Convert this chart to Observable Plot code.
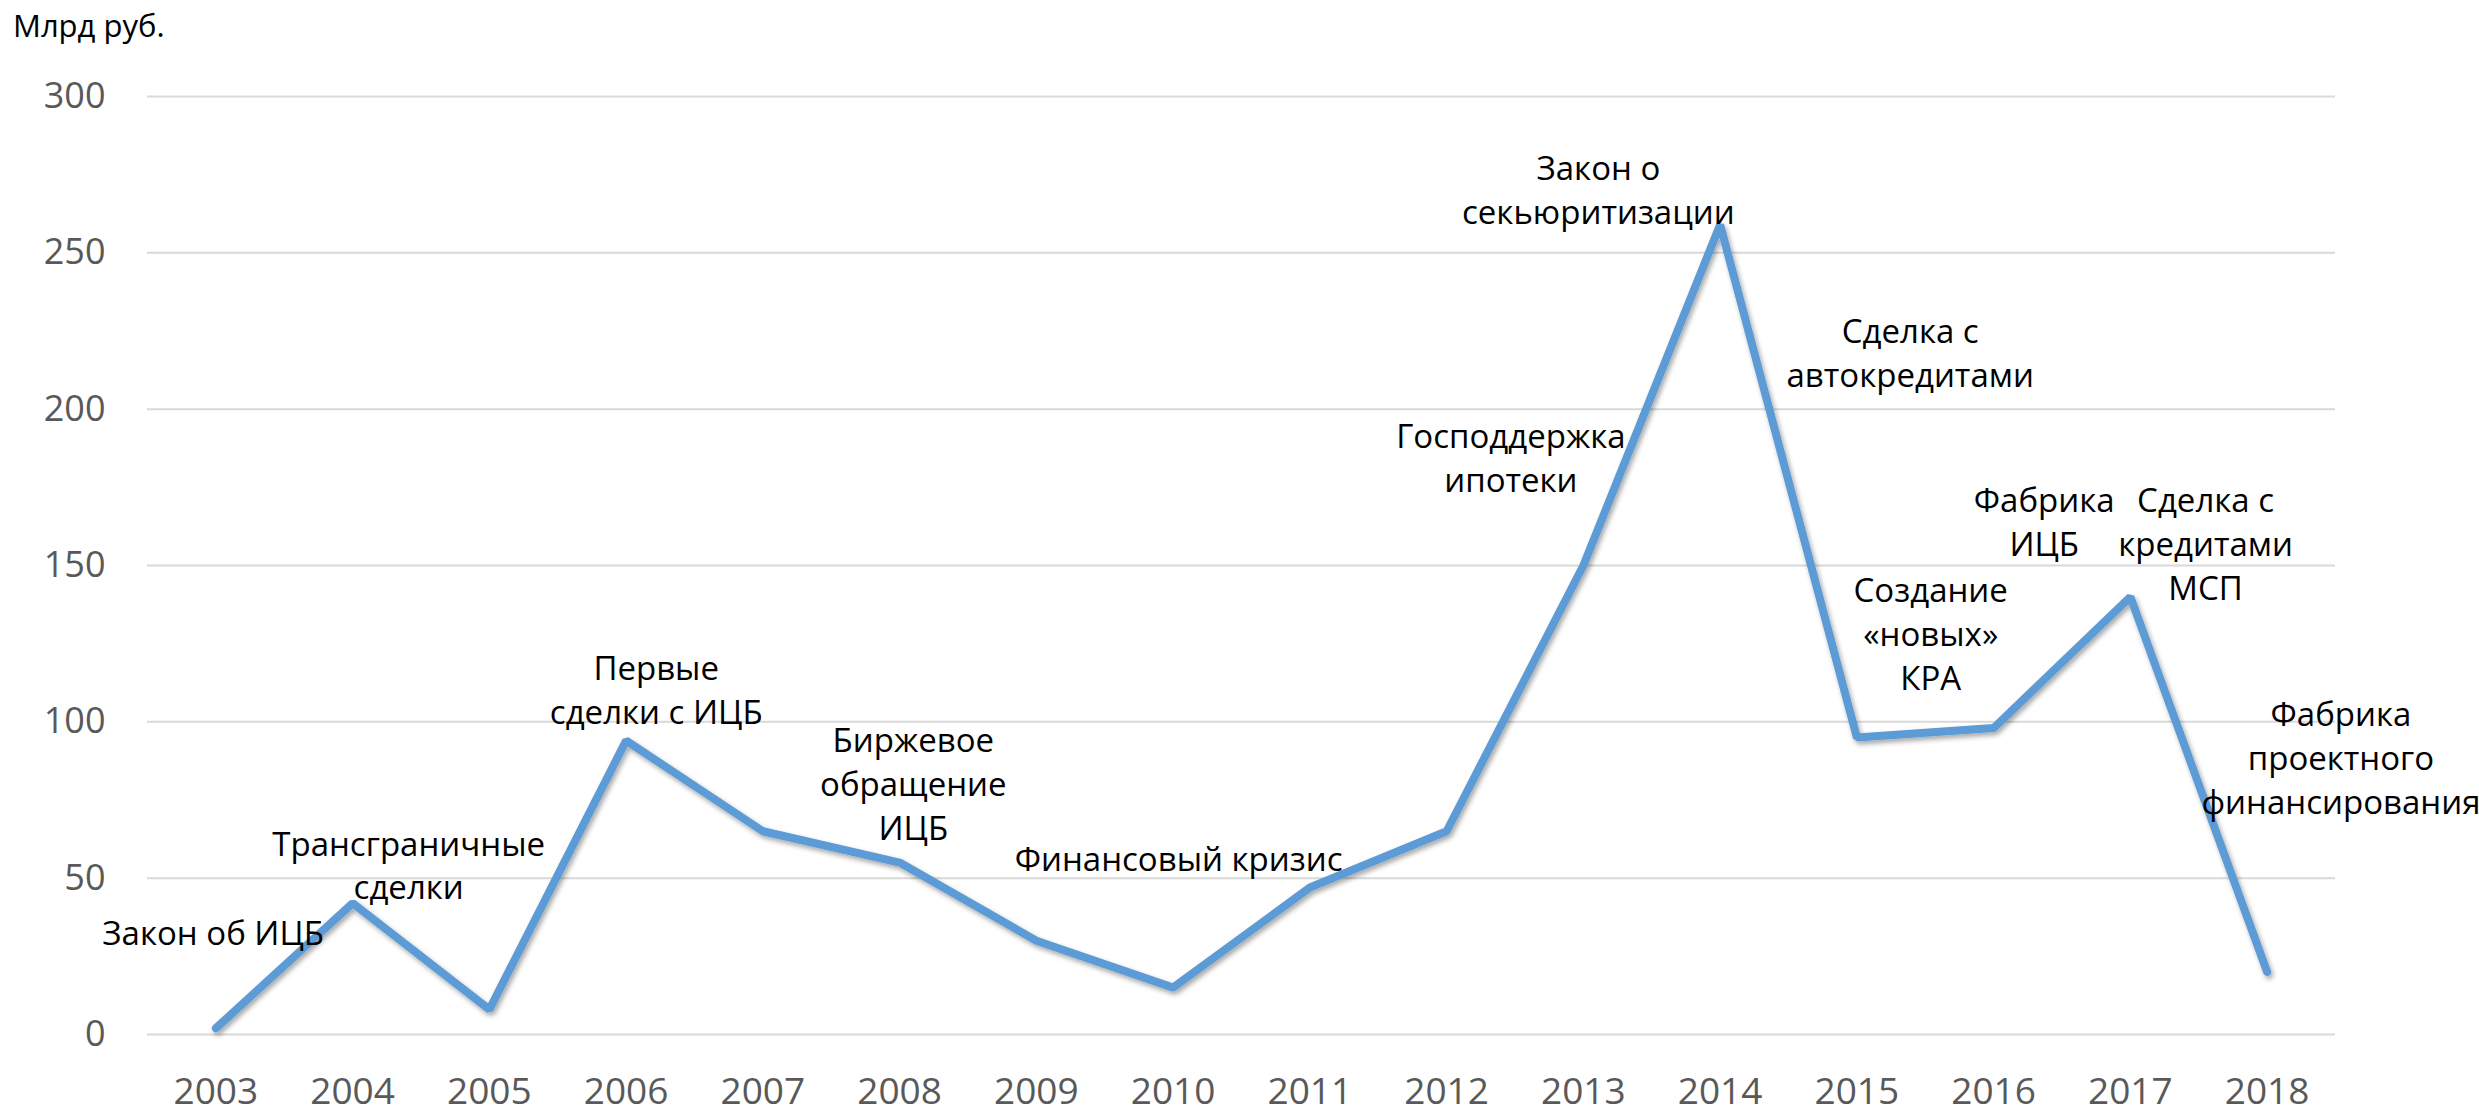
<!DOCTYPE html>
<html>
<head>
<meta charset="utf-8">
<script src="https://cdn.jsdelivr.net/npm/d3@7"></script>
<script src="https://cdn.jsdelivr.net/npm/@observablehq/plot@0.6"></script>
<style>
  html, body { margin: 0; padding: 0; background: #fff; }
  #unit { height: 50px; line-height: 50px; font-family: "Open Sans", sans-serif; font-size: 31px; color: #000; padding-left: 13px; }
</style>
</head>
<body>
<div id="unit">Млрд руб.</div>
<div id="chart"></div>
<script>
// Data
const years = [2003, 2004, 2005, 2006, 2007, 2008, 2009, 2010, 2011, 2012, 2013, 2014, 2015, 2016, 2017, 2018];
const volumes = [2, 42, 8, 94, 65, 55, 30, 15, 47, 65, 150, 259, 95, 98, 140, 20];
const yTicks = [0, 50, 100, 150, 200, 250, 300];

// Annotation texts and their anchor positions in data units (year, value)
const noteTexts = [
  "Закон об ИЦБ",
  "Трансграничные\nсделки",
  "Первые\nсделки с ИЦБ",
  "Биржевое\nобращение\nИЦБ",
  "Финансовый кризис",
  "Господдержка\nипотеки",
  "Закон о\nсекьюритизации",
  "Сделка с\nавтокредитами",
  "Создание\n«новых»\nКРА",
  "Фабрика\nИЦБ",
  "Сделка с\nкредитами\nМСП",
  "Фабрика\nпроектного\nфинансирования"
];
const noteYears = [2002.98, 2004.41, 2006.22, 2008.10, 2010.04, 2012.47, 2013.11, 2015.39, 2015.54, 2016.37, 2017.55, 2018.54];
const noteValues = [33, 54.7, 110.8, 80.7, 56.7, 185, 270.8, 218.6, 128.7, 164.5, 157.5, 89];

const series = years.map((y, i) => ({year: y, value: volumes[i]}));
const notes = noteTexts.map((t, i) => ({text: t, year: noteYears[i], value: noteValues[i]}));

const chart = Plot.plot({
  width: 2479,
  height: 1065,
  marginTop: 46,
  marginBottom: 81,
  marginLeft: 147,
  marginRight: 144,
  style: {fontFamily: "Open Sans, sans-serif", background: "#fff"},
  x: {domain: [2002.5, 2018.5], ticks: years, tickFormat: d => String(d)},
  y: {domain: [0, 300], ticks: yTicks},
  marks: [
    Plot.ruleY(yTicks, {stroke: "#d9d9d9", strokeWidth: 2}),
    Plot.axisX({ticks: years, tickFormat: d => String(d), tickSize: 0, tickPadding: 43, fontSize: 37, fill: "#595959", label: null}),
    Plot.axisY({ticks: yTicks, tickSize: 0, tickPadding: 42, fontSize: 36, fill: "#595959", label: null}),
    Plot.line(series, {x: "year", y: "value", stroke: "#5B9BD5", strokeWidth: 8, strokeLinejoin: "miter", strokeLinecap: "round"}),
    Plot.text(notes, {x: "year", y: "value", text: "text", fontSize: 33, lineHeight: 1.33, fill: "#000", textAnchor: "middle", lineAnchor: "middle"})
  ]
});

// soft drop shadow for the line, as in the original
const svg = d3.select(chart);
const defs = svg.insert("defs", ":first-child");
const f = defs.append("filter").attr("id", "lineShadow").attr("x", "-5%").attr("y", "-5%").attr("width", "110%").attr("height", "110%");
f.append("feDropShadow").attr("dx", 2).attr("dy", 3).attr("stdDeviation", 2.5).attr("flood-color", "#000").attr("flood-opacity", 0.35);
svg.selectAll('g[aria-label="line"]').attr("filter", "url(#lineShadow)");

document.getElementById("chart").appendChild(chart);
</script>
</body>
</html>
